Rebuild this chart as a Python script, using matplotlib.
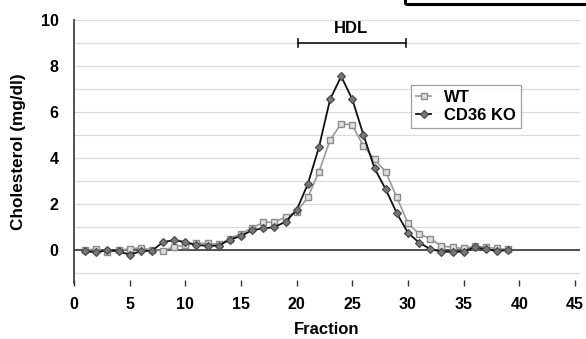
import matplotlib
matplotlib.use("Agg")
import matplotlib.pyplot as plt
from matplotlib.patches import Rectangle

fractions = list(range(1, 40))
wt = [0.0, 0.05, -0.1, 0.0, 0.05, 0.1, 0.0, -0.03, 0.15, 0.2,
      0.3, 0.29, 0.25, 0.5, 0.72, 0.97, 1.2, 1.22, 1.43, 1.67,
      2.29, 3.4, 4.78, 5.5, 5.43, 4.52, 3.94, 3.4, 2.29, 1.16,
      0.7, 0.5, 0.18, 0.12, 0.07, 0.17, 0.12, 0.07, 0.03]
ko = [-0.05, -0.1, 0.0, -0.05, -0.2, -0.05, -0.03, 0.35, 0.43, 0.35,
      0.22, 0.19, 0.19, 0.46, 0.61, 0.87, 0.94, 1.0, 1.23, 1.74,
      2.87, 4.47, 6.55, 7.55, 6.55, 5.0, 3.55, 2.64, 1.6, 0.75,
      0.32, 0.05, -0.07, -0.07, -0.07, 0.14, 0.03, -0.03, 0.0]
xticks = [0, 5, 10, 15, 20, 25, 30, 35, 40, 45]
yticks = [0, 2, 4, 6, 8, 10]
hdl_range = [20.1, 29.8]

plt.rcParams['font.family'] = ['Liberation Sans', 'DejaVu Sans']
plt.rcParams['font.weight'] = 'bold'

W, H = 586, 339
fig = plt.figure(figsize=(W / 100, H / 100), dpi=100)
ax = fig.add_axes([74 / W, (H - 283) / H, (580 - 74) / W, (283 - 20) / H])

ax.set_xlim(0, 45.45)
ax.set_ylim(-1.43, 10)

for g in range(-1, 11):
    ax.axhline(g, color='#dcdcdc', lw=0.9, zorder=0)
ax.axhline(0, color='#444444', lw=1.3, zorder=1)

ax.plot(fractions, wt, color='#9a9a9a', lw=1.2, marker='s', ms=4.6,
        mfc='#dedede', mec='#8a8a8a', mew=1.0, label='WT', zorder=3)
ax.plot(fractions, ko, color='#111111', lw=1.3, marker='D', ms=3.6,
        mfc='#777777', mec='#444444', mew=0.8, label='CD36 KO', zorder=4)

for s in ['top', 'right', 'bottom']:
    ax.spines[s].set_visible(False)
ax.spines['left'].set_color('#333333')
ax.spines['left'].set_linewidth(1.2)

ax.set_xticks(xticks)
ax.set_xticklabels([str(t) for t in xticks], fontsize=11.5, fontweight='bold')
ax.set_yticks(yticks)
ax.set_yticklabels([str(t) for t in yticks], fontsize=11.5, fontweight='bold')
ax.tick_params(axis='x', length=4, width=1.0, color='#333333', direction='inout', pad=8)
ax.tick_params(axis='y', length=0, pad=11)

ax.set_xlabel('Fraction', fontsize=12, fontweight='bold', labelpad=7)
ax.set_ylabel('Cholesterol (mg/dl)', fontsize=12.3, fontweight='bold', labelpad=11)

# HDL bracket
ax.plot(hdl_range, [9.0, 9.0], color='#111111', lw=1.2, clip_on=False)
for xv in hdl_range:
    ax.plot([xv, xv], [8.82, 9.18], color='#111111', lw=1.2, clip_on=False)
ax.text(sum(hdl_range) / 2 - 0.05, 9.3, 'HDL', ha='center', va='bottom',
        fontsize=12, fontweight='bold')

leg = ax.legend(loc='upper left', bbox_to_anchor=((411 - 74) / (580 - 74), 1 - (85 - 20) / (283 - 20)),
                fontsize=12, frameon=True, fancybox=False, handlelength=0.9,
                handletextpad=0.8, borderpad=0.3, labelspacing=0.15, borderaxespad=0)
leg.get_frame().set_edgecolor('#888888')
leg.get_frame().set_linewidth(0.9)

# partial frame from adjacent panel at top right
fig.patches.append(Rectangle((405 / W, 1 - 4 / H), 0.5, 0.2,
                             transform=fig.transFigure, fill=False,
                             edgecolor='black', lw=2.2))

fig.savefig('out.png', dpi=100)
